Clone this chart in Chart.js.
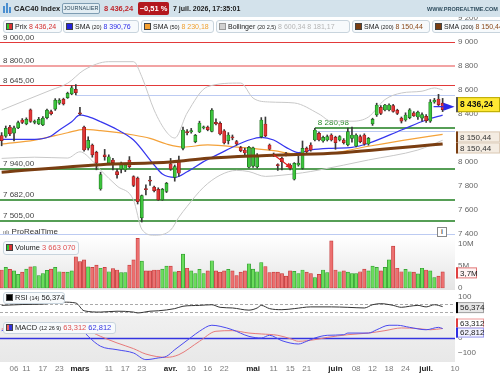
<!DOCTYPE html>
<html><head><meta charset="utf-8">
<script src="https://cdn.jsdelivr.net/npm/chart.js@4.4.1/dist/chart.umd.min.js"></script>
<style>
*{box-sizing:border-box}
html,body{margin:0;padding:0;background:#fff}
body{width:500px;height:375px;position:relative;overflow:hidden;font-family:"Liberation Sans",Arial,sans-serif;color:#222}
canvas{position:absolute;left:0}
.a{position:absolute;white-space:nowrap;line-height:1}
.box{position:absolute;height:13px;border:1px solid #c8d4dd;border-radius:3px;background:#f7fafc;font-size:7px;line-height:11px;padding-left:2px;white-space:nowrap;overflow:hidden;color:#222}
.sq{display:inline-block;width:7px;height:7px;border:1px solid #444;vertical-align:-1px;margin-right:2px}
.sm{font-size:5.5px}
</style></head><body>
<canvas id="cPrice" width="500" height="237" style="top:0"></canvas>
<canvas id="cVol" width="500" height="53" style="top:237px"></canvas>
<canvas id="cRsi" width="500" height="26" style="top:290px"></canvas>
<canvas id="cMacd" width="500" height="59" style="top:316px"></canvas>

<div class="a" style="left:0;top:0;width:500px;height:17px;background:#d3e2eb"></div>
<div class="a" style="left:3px;top:6px;width:2px;height:7px;background:#4b8fd0"></div>
<div class="a" style="left:6px;top:3px;width:2px;height:10px;background:#4b8fd0"></div>
<div class="a" style="left:9px;top:7px;width:2px;height:6px;background:#4b8fd0"></div>
<div class="a" style="left:14px;top:4.5px;font-size:7.5px;font-weight:bold;color:#1c1c1c">CAC40 Index</div>
<div class="a" style="left:62px;top:3px;width:38px;height:11px;border:1px solid #7e9db3;border-radius:2px;background:#e2edf3;font-size:5.5px;line-height:9px;text-align:center;color:#2d4a5e">JOURNALIER</div>
<div class="a" style="left:104px;top:4.5px;font-size:7.5px;font-weight:bold;color:#c0262c">8 436,24</div>
<div class="a" style="left:138px;top:2px;width:31px;height:13px;background:#b3171d;border-radius:2px;font-size:7.5px;font-weight:bold;color:#fff;line-height:13px;text-align:center">−0,51 %</div>
<div class="a" style="left:173px;top:4.5px;font-size:7px;font-weight:bold;color:#1c1c1c">7 juil. 2026, 17:35:01</div>
<div class="a" style="left:427px;top:7px;font-size:5.5px;font-weight:bold;color:#2f4d5e">WWW.PROREALTIME.COM</div>

<div class="box" style="left:3px;top:20px;width:59px"><span class="sq" style="background:linear-gradient(90deg,#3c3 50%,#d33 50%)"></span>Prix <span style="color:#d42f2f">8 436,24</span></div>
<div class="box" style="left:63px;top:20px;width:76px"><span class="sq" style="background:#2424dd"></span>SMA <span class="sm">(20)</span> <span style="color:#2f2fe8">8 390,76</span></div>
<div class="box" style="left:141px;top:20px;width:73px"><span class="sq" style="background:#f5a030"></span>SMA <span class="sm">(50)</span> <span style="color:#f0a030">8 230,18</span></div>
<div class="box" style="left:216px;top:20px;width:134px"><span class="sq" style="background:#d0d0d0;border-color:#999"></span>Bollinger <span class="sm">(20 2,5)</span> <span style="color:#b5b5b5">8 600,34 8 181,17</span></div>
<div class="box" style="left:352px;top:20px;width:78px"><span class="sq" style="background:#7a3e12"></span>SMA <span class="sm">(200)</span> <span style="color:#8b4a1a">8 150,44</span></div>
<div class="box" style="left:432px;top:20px;width:72px"><span class="sq" style="background:#7a3e12"></span>SMA <span class="sm">(200)</span> <span style="color:#8b4a1a">8 150,44</span></div>

<div class="a" style="left:3px;top:228px;font-size:8px;color:#333"><span style="font-size:6px;color:#555">ıılı</span> ProRealTime</div>
<div class="a" style="left:437px;top:227px;width:10px;height:10px;border:1px solid #888;font-size:7px;font-weight:bold;line-height:8px;text-align:center;color:#555;background:#fff">i</div>

<div class="box" style="left:3px;top:241px;width:76px;height:14px;line-height:12px;font-size:7.5px"><span class="sq" style="background:linear-gradient(90deg,#3c3 50%,#d33 50%)"></span>Volume <span style="color:#e05050">3 663 070</span></div>
<div class="box" style="left:3px;top:292px;width:62px;height:12px;line-height:10px;font-size:7.5px"><span class="sq" style="background:#000"></span>RSI <span class="sm">(14)</span> 56,374</div>
<div class="box" style="left:3px;top:322px;width:113px;height:12px;line-height:10px;font-size:7.5px"><span class="sq" style="background:linear-gradient(90deg,#e66 50%,#33d 50%)"></span>MACD <span class="sm">(12 26 9)</span> <span style="color:#e05050">63,312</span> <span style="color:#3535e0">62,812</span></div>

<script>
const FONT = '"Liberation Sans", Arial, sans-serif';

// ---- categories (trading days, 2026) ----
const dates = ['02-03','02-04','02-05','02-06','02-09','02-10','02-11','02-12','02-13','02-16','02-17','02-18','02-19','02-20','02-23','02-24','02-25','02-26','02-27',
'03-02','03-03','03-04','03-05','03-06','03-09','03-10','03-11','03-12','03-13','03-16','03-17','03-18','03-19','03-20','03-23','03-24','03-25','03-26','03-27','03-30','03-31',
'04-01','04-02','04-07','04-08','04-09','04-10','04-13','04-14','04-15','04-16','04-17','04-20','04-21','04-22','04-23','04-24','04-27','04-28','04-29','04-30',
'05-04','05-05','05-06','05-07','05-08','05-11','05-12','05-13','05-14','05-15','05-18','05-19','05-20','05-21','05-22','05-25','05-26','05-27','05-28','05-29',
'06-01','06-02','06-03','06-04','06-05','06-08','06-09','06-10','06-11','06-12','06-15','06-16','06-17','06-18','06-19','06-22','06-23','06-24','06-25','06-26','06-29','06-30',
'07-01','07-02','07-03','07-06','07-07'];
const futureDates = ['07-08','07-09','07-10'];
const axisDates = dates.concat(futureDates);

// ---- price OHLC ----
const open = [8220,8215,8290,8240,8285,8350,8318,8435,8330,8318, 8310,8370,8420,8440,8490,8522,8536,8567,8606,8410,
 8290,8115,8140,8080,7775,8060,7990,8017,7920,7940, 7935,8017,7878,7865,7535,7775,7845,7790,7772,7685,
 7755,7985,7872,8017,8114,8250,8250,8170,8250,8285, 8290,8255,8330,8322,8260,8178,8210,8170,8120,8100,
 7956,7965,7960,8211,8317,8142,8065,7975,8030,8070, 7975,7856,7975,7947,8114,8142,8183,8239,8175,8183,
 8225,8206,8183,8183,8142,8197,8133,8211,8225,8150, 8317,8392,8455,8433,8433,8470,8430,8365,8350,8370,
 8410,8375,8365,8380,8340,8500,8525,8490];
const high = [8245,8300,8305,8300,8340,8362,8368,8442,8350,8372, 8378,8440,8432,8528,8528,8532,8582,8635,8645,8455,
 8300,8210,8150,8090,7915,8105,8060,8030,7940,8000, 7990,8045,7885,7875,7725,7810,7880,7800,7785,7780,
 7830,8030,7975,8050,8290,8270,8280,8230,8340,8300, 8300,8445,8360,8335,8270,8245,8225,8180,8130,8115,
 8130,8125,8070,8370,8375,8150,8075,7985,8040,8080, 7985,7995,8050,8175,8125,8160,8281,8250,8215,8225,
 8235,8215,8220,8195,8283,8290,8235,8225,8235,8205, 8365,8490,8470,8480,8485,8480,8440,8375,8410,8445,
 8420,8425,8410,8395,8520,8530,8564,8530];
const low = [8135,8205,8220,8175,8278,8320,8310,8330,8318,8312, 8302,8360,8392,8430,8480,8475,8530,8560,8558,8390,
 8090,8100,8040,7935,7765,8015,7980,7935,7865,7910, 7920,7950,7795,7650,7500,7725,7805,7750,7680,7680,
 7745,7930,7840,7880,8100,8225,8240,8160,8245,8275, 8260,8250,8310,8225,8150,8150,8185,8140,8085,8060,
 7950,7955,7950,8200,8210,8100,8045,7930,7935,8050, 7935,7850,7965,7940,8075,8090,8175,8175,8165,8175,
 8175,8106,8175,8150,8135,8165,8125,8160,8140,8140, 8305,8380,8395,8425,8425,8415,8395,8325,8340,8360,
 8380,8355,8340,8330,8330,8490,8470,8420];
const close = [8178,8280,8235,8285,8328,8330,8356,8338,8340,8356, 8365,8432,8402,8516,8515,8484,8572,8619,8578,8402,
 8100,8180,8060,7990,7895,8045,8044,7995,7895,7990, 7975,7961,7805,7670,7720,7770,7840,7762,7685,7772,
 7822,7940,7961,7906,8267,8245,8262,8222,8325,8290, 8270,8433,8318,8233,8160,8225,8200,8150,8095,8075,
 8122,8118,8058,8350,8217,8106,8052,7970,8003,8062, 7947,7989,7990,8114,8086,8100,8267,8183,8205,8211,
 8183,8161,8211,8161,8253,8225,8225,8169,8150,8197, 8356,8475,8405,8475,8475,8422,8405,8340,8392,8435,
 8385,8415,8395,8345,8500,8515,8478,8436.24];

// ---- volume (millions) ----
const volumeM = [4.1,4.7,4.25,3.9,3.1,3.6,4.3,4.8,4.85,2.8, 3.3,4.0,4.3,4.7,3.7,3.6,3.6,3.9,7.1,6.0,
 6.4,4.8,4.7,5.2,4.5,4.7,3.7,4.4,4.1,3.5, 3.5,5.2,6.4,11.3,6.1,3.9,3.9,4.1,4.1,4.3,
 5.0,5.0,3.7,3.8,7.7,4.5,3.9,3.3,4.25,3.3, 3.9,6.2,3.9,3.6,3.9,4.25,3.9,2.8,3.6,3.9,
 5.5,4.3,3.7,5.8,4.85,3.5,3.6,3.6,3.3,2.7, 3.9,3.8,3.3,4.1,3.6,3.3,2.35,3.1,4.1,3.5,
 10.7,4.1,3.7,3.9,3.6,3.3,3.3,3.7,4.3,3.9, 5.0,4.7,3.9,4.7,6.4,9.5,4.5,3.7,4.25,3.7,
 3.6,3.2,4.5,4.1,3.9,2.35,2.7,3.66307];

// ---- indicators, read at sampled days: [day index, value] ----
const sma20Pts = [[0,8189],[8,8189],[12,8217],[14,8267],[17,8336],[19,8392],[21,8378],[24,8336],[28,8270],[32,8183],[37,7975],[39,7900],[42,7872],[45,7919],[49,8003],[53,8072],[57,8140],[60,8183],[63,8206],[66,8183],[69,8122],[72,8078],[75,8100],[80,8114],[85,8122],[89,8156],[97,8267],[103,8350],[107,8390.76]];
const sma50Pts = [[0,8150],[8,8183],[16,8244],[20,8272],[24,8261],[32,8225],[36,8197],[40,8150],[44,8125],[50,8142],[58,8122],[66,8094],[72,8064],[77,8064],[89,8131],[97,8178],[107,8230.18]];
const sma200Pts = [[0,7915],[24,7978],[41,8000],[50,8031],[63,8053],[80,8072],[107,8150.44]];
const bbUpperPts = [[0,8433],[6,8517],[12,8600],[16,8656],[20,8767],[26,8836],[32,8836],[34,8711],[37,8433],[40,8250],[42,8200],[45,8408],[50,8628],[58,8658],[61,8533],[65,8500],[71,8492],[77,8400],[80,8340],[85,8340],[89,8375],[93,8520],[97,8575],[102,8590],[105,8617],[107,8600.34]];
const bbLowerPts = [[0,8030],[8,8040],[16,8033],[19,8085],[22,8010],[24,7933],[28,7800],[32,7683],[34,7440],[37,7390],[41,7433],[43,7540],[45,7630],[49,7790],[53,7890],[57,7930],[60,7920],[64,7880],[68,7890],[73,7910],[77,7933],[89,8017],[101,8100],[107,8181.17]];
const rsiPts = [[0,62],[5,66],[10,68],[15,77],[18,73],[20,37],[24,31],[28,35],[32,31],[33,27],[36,35],[38,37],[42,47],[44,58],[48,62],[51,65],[53,53],[56,50],[60,40],[62,50],[63,62],[65,47],[68,42],[71,47],[75,55],[80,55],[84,53],[88,50],[90,65],[92,70],[95,62],[97,53],[99,58],[101,62],[103,55],[105,65],[106,62],[107,56.374]];
const macdPts = [[0,49],[3,71],[8,85],[13,92],[17,88],[19,70],[21,11],[24,-55],[28,-78],[32,-100],[35,-144],[38,-133],[40,-122],[42,-78],[46,5],[48,45],[51,85],[53,78],[56,55],[60,11],[63,0],[65,18],[68,-18],[72,-40],[74,-22],[76,0],[79,18],[83,22],[84,33],[89,33],[91,55],[94,85],[96,85],[99,71],[103,55],[106,71],[107,62.812]];
const signalPts = [[0,60],[5,75],[10,82],[15,85],[20,60],[24,11],[28,-33],[32,-71],[35,-107],[40,-129],[43,-111],[48,-22],[52,45],[56,49],[60,33],[63,27],[67,18],[70,-4],[72,-22],[76,-11],[79,4],[84,22],[89,33],[93,49],[97,67],[101,63],[104,55],[107,63.312]];

// ---- axis ticks ----
const tickDates = ['02-06','02-11','02-17','02-23','03-02','03-11','03-17','03-23','04-01','04-10','04-16','04-22','05-04','05-11','05-15','05-21','06-01','06-08','06-12','06-18','06-24','07-01','07-10'];
const tickText  = ['06','11','17','23','mars','11','17','23','avr.','10','16','22','mai','11','15','21','juin','08','12','18','24','juil.','10'];
const months = ['mars','avr.','mai','juin','juil.'];
const priceTicks = [7400,7600,7800,8000,8200,8400,8600,8800,9000,9200];
const volTicks = [0,5,10];
const rsiTicks = [100];
const macdTicks = [0,-100];

// ---- horizontal levels on price ----
const levelValues = [9000, 8800, 8645, 8558, 8280.98, 8258, 7940, 7682, 7505, 7400];
const levelFrom   = [0, 0, 0, 18, 76, 76, 0, 0, 0, 0];
const levelText   = ['9 000,00','8 800,00','8 645,00','','8 280,98','','7 940,00','7 682,00','7 505,00',''];
const levelStyle  = [
  {c:'#e23a3a',w:1,t:'#444'},{c:'#f2a3a3',w:2,t:'#444'},{c:'#e23a3a',w:1,t:'#444'},{c:'#bccbf2',w:1,t:'#444'},
  {c:'#1e7e1e',w:1.5,t:'#2a8a2a'},{c:'#bccbf2',w:1,t:'#444'},{c:'#1e7e1e',w:1.5,t:'#444'},{c:'#1e7e1e',w:1.5,t:'#444'},
  {c:'#1e7e1e',w:1.5,t:'#444'},{c:'#bccbf2',w:1,t:'#444'}];
const rsiLevels = [70, 30];
const arrowPts = [[66, 8060], [70.3, 7950]];

// ---- helpers ----
const P = pts => pts.map(p => ({x:p[0], y:p[1]}));
const last = a => a[a.length-1];
const fmtFr = (v, d) => { const neg = v < 0; const s = Math.abs(v).toFixed(d).split('.');
  return (neg?'−':'') + s[0].replace(/\B(?=(\d{3})+(?!\d))/g,' ') + (d ? ','+s[1] : ''); };
const isUp = close.map((c,i) => c >= open[i]);

function xScale(show){
  return {type:'linear', min:-0.4, max:axisDates.length-1, offset:false, display:show, position:'bottom',
    grid:{display:false, drawTicks:false}, border:{display:false},
    afterBuildTicks: s => { s.ticks = tickDates.map(d => ({value: axisDates.indexOf(d)})); },
    afterFit: s => { if (show) s.height = 13; s.paddingLeft = 0; s.paddingRight = 0; },
    ticks:{autoSkip:false, maxRotation:0, minRotation:0, padding:2,
      color: c => months.includes(tickText[c.index]) ? '#222' : '#7a7a7a',
      font: c => ({family:FONT, size:8, weight: months.includes(tickText[c.index]) ? 'bold' : 'normal'}),
      callback: (v,i) => tickText[i]}};
}
function yScale(min, max, ticks, fmt){
  return {type:'linear', position:'right', min, max,
    grid:{display:false, drawTicks:false}, border:{display:false},
    afterBuildTicks: s => { s.ticks = ticks.map(v => ({value:v})); },
    afterFit: s => { s.width = 45; s.paddingTop = 0; s.paddingBottom = 0; },
    ticks:{autoSkip:false, padding:3, color:'#666', font:{family:FONT, size:8}, callback: v => fmt(v)}};
}
const baseOpts = (scales) => ({responsive:false, animation:false, events:[],
  layout:{padding:0, autoPadding:false},
  plugins:{legend:{display:false}, tooltip:{enabled:false}}, scales});

function drawTag(chart, t){
  const ctx = chart.ctx, ys = chart.scales.y, a = chart.chartArea;
  const yc = ys.getPixelForValue(t.v) + (t.dy||0), h = t.h, x0 = a.right + 1;
  ctx.save();
  ctx.fillStyle = t.bg; ctx.fillRect(x0, yc-h/2, t.w, h);
  if (t.border){ ctx.strokeStyle = t.border; ctx.lineWidth = 1; ctx.strokeRect(x0+0.5, yc-h/2+0.5, t.w-1, h-1); }
  ctx.fillStyle = t.lb; ctx.fillRect(x0, yc-h/2, 2, h);
  ctx.fillStyle = t.color||'#222'; ctx.font = (t.bold?'bold ':'') + (t.fs||8) + 'px ' + FONT;
  ctx.textBaseline = 'middle'; ctx.textAlign = 'left';
  ctx.fillText(t.text, x0+4, yc+0.5);
  ctx.restore();
}
const tagsPlugin = tags => ({id:'tags', afterDraw(chart){ tags.forEach(t => drawTag(chart, t)); }});
const bgPlugin = (c1, c2) => ({id:'bg', beforeDraw(chart){
  const {ctx, chartArea:a} = chart; const g = ctx.createLinearGradient(0,a.top,0,a.bottom);
  g.addColorStop(0,c1); g.addColorStop(1,c2); ctx.save(); ctx.fillStyle = g;
  ctx.fillRect(a.left, a.top, a.right-a.left, a.bottom-a.top); ctx.restore(); }});
const hLinesPlugin = (vals, color, width, dash) => ({id:'hl', beforeDatasetsDraw(chart){
  const {ctx, chartArea:a, scales:{y}} = chart; ctx.save(); ctx.strokeStyle = color; ctx.lineWidth = width; ctx.setLineDash(dash||[]);
  vals.forEach(v => { const py = Math.round(y.getPixelForValue(v)) + 0.5; ctx.beginPath(); ctx.moveTo(a.left, py); ctx.lineTo(a.right, py); ctx.stroke(); });
  ctx.restore(); }});

// ---- price chart ----
const levelsPlugin = {id:'levels', beforeDatasetsDraw(chart){
  const {ctx, chartArea:a, scales:{x, y}} = chart;
  ctx.save();
  levelValues.forEach((v,k) => {
    const st = levelStyle[k];
    const py = Math.round(y.getPixelForValue(v)) + (st.w === 1 ? 0.5 : 0);
    const px0 = Math.max(a.left, x.getPixelForValue(levelFrom[k]));
    ctx.strokeStyle = st.c; ctx.lineWidth = st.w;
    ctx.beginPath(); ctx.moveTo(levelFrom[k] === 0 ? a.left : px0, py); ctx.lineTo(a.right, py); ctx.stroke();
    if (levelText[k]){ ctx.fillStyle = st.t; ctx.font = '8px ' + FONT; ctx.textBaseline = 'alphabetic';
      ctx.fillText(levelText[k], (levelFrom[k] === 0 ? a.left : px0) + 3, py - 3); }
  });
  ctx.restore();
}, afterDatasetsDraw(chart){
  const {ctx, scales:{x, y}} = chart;
  ctx.save();
  const x1 = x.getPixelForValue(arrowPts[0][0]), y1 = y.getPixelForValue(arrowPts[0][1]);
  const x2 = x.getPixelForValue(arrowPts[1][0]), y2 = y.getPixelForValue(arrowPts[1][1]);
  const ang = Math.atan2(y2-y1, x2-x1);
  ctx.strokeStyle = '#e01f1f'; ctx.fillStyle = '#e01f1f'; ctx.lineWidth = 1.2;
  ctx.beginPath(); ctx.moveTo(x1,y1); ctx.lineTo(x2,y2); ctx.stroke();
  ctx.beginPath(); ctx.moveTo(x2,y2);
  ctx.lineTo(x2 - 6*Math.cos(ang-0.45), y2 - 6*Math.sin(ang-0.45));
  ctx.lineTo(x2 - 6*Math.cos(ang+0.45), y2 - 6*Math.sin(ang+0.45)); ctx.closePath(); ctx.fill();
  const n = close.length - 1;
  const ym = y.getPixelForValue(last(close)) - 3;
  const xa = x.getPixelForValue(n - 2.2), xb = x.getPixelForValue(n + 0.2), xc = x.getPixelForValue(n + 2.9);
  ctx.strokeStyle = '#2a2ae8'; ctx.fillStyle = '#2a2ae8'; ctx.lineWidth = 1.2;
  ctx.beginPath(); ctx.moveTo(xa, ym); ctx.lineTo(xb, ym); ctx.stroke();
  ctx.beginPath(); ctx.moveTo(xb, ym-4); ctx.lineTo(xc, ym); ctx.lineTo(xb, ym+4); ctx.closePath(); ctx.fill();
  ctx.restore();
}};

const wickData = dates.map((d,i) => ({x:i, y:[low[i], high[i]]}));
const bodyData = dates.map((d,i) => ({x:i, y:[open[i], close[i]]}));
const lineDs = (pts, color, w, order) => ({type:'line', data:P(pts), borderColor:color, borderWidth:w,
  pointRadius:0, cubicInterpolationMode:'monotone', fill:false, order});

new Chart(document.getElementById('cPrice'), {
  type:'bar',
  data:{datasets:[
    lineDs(bbUpperPts, '#c8c8c8', 1, 9),
    lineDs(bbLowerPts, '#c8c8c8', 1, 9),
    lineDs(sma50Pts, '#f4a23a', 1.2, 7),
    lineDs(sma20Pts, '#3535ee', 1.2, 6),
    {type:'bar', data:wickData, barThickness:1, grouped:false, backgroundColor:'#3a3a3a', order:3},
    {type:'bar', data:bodyData, barThickness:3.2, grouped:false, minBarLength:1, borderSkipped:false,
      backgroundColor: c => isUp[c.dataIndex] ? '#3cc43c' : '#e23636',
      borderColor: c => isUp[c.dataIndex] ? '#1d6b1d' : '#8e1a1a', borderWidth:0.7, order:2},
    lineDs(sma200Pts, '#7a3e12', 3, 1)
  ]},
  options: baseOpts({x:xScale(false), y:yScale(7375, 9350, priceTicks, v => fmtFr(v,0))}),
  plugins:[levelsPlugin, tagsPlugin([
    {v:last(close), dy:-5, h:15, w:44, bg:'#ffe833', border:'#b8a800', lb:'#555', text:fmtFr(last(close),2), bold:true, fs:8.5, color:'#111'},
    {v:last(sma200Pts)[1], dy:-7, h:11, w:44, bg:'#f4ece2', border:'#dccbb8', lb:'#7a3e12', text:fmtFr(last(sma200Pts)[1],2), color:'#333'},
    {v:last(sma200Pts)[1], dy:4, h:11, w:44, bg:'#f4ece2', border:'#dccbb8', lb:'#7a3e12', text:fmtFr(last(sma200Pts)[1],2), color:'#333'}
  ])]
});

// ---- volume chart ----
new Chart(document.getElementById('cVol'), {
  type:'bar',
  data:{datasets:[{data: volumeM.map((v,i) => ({x:i, y:v})), barThickness:3.4, grouped:false,
    backgroundColor: c => isUp[c.dataIndex] ? '#6bdc5c' : '#ec7070',
    borderColor: c => isUp[c.dataIndex] ? '#2c9a2c' : '#c03535', borderWidth:0.7, borderSkipped:false}]},
  options: baseOpts({x:xScale(false), y:yScale(-0.45, 11.59, volTicks, v => v === 0 ? '0' : v + 'M')}),
  plugins:[bgPlugin('#ffffff', '#e4e4e4'), tagsPlugin([
    {v:last(volumeM), dy:1, h:11, w:21, bg:'#fff4f4', border:'#e07878', lb:'#e04040', text:fmtFr(last(volumeM),1)+'M'}
  ])]
});

// ---- RSI chart ----
new Chart(document.getElementById('cRsi'), {
  type:'line',
  data:{datasets:[lineDs(rsiPts, '#333333', 1, 1)]},
  options: baseOpts({x:xScale(false), y:yScale(12.75, 133.4, rsiTicks, v => String(v))}),
  plugins:[hLinesPlugin(rsiLevels, '#aaaaaa', 1, [3,2]), tagsPlugin([
    {v:last(rsiPts)[1], dy:1, h:11, w:28, bg:'#e6e6e6', border:'#a0a0a0', lb:'#000', text:fmtFr(last(rsiPts)[1],3)}
  ])]
});

// ---- MACD chart ----
new Chart(document.getElementById('cMacd'), {
  type:'line',
  data:{datasets:[lineDs(signalPts, '#e77a7a', 1, 2), lineDs(macdPts, '#4a4af0', 1, 1)]},
  options: baseOpts({x:xScale(true), y:yScale(-160, 146.7, macdTicks, v => fmtFr(v,0))}),
  plugins:[bgPlugin('#f0f0f0', '#e8e8e8'), hLinesPlugin([0], '#3434e0', 1.5), tagsPlugin([
    {v:last(signalPts)[1], dy:-5, h:10, w:28, bg:'#ffffff', border:'#ee9999', lb:'#e04040', text:fmtFr(last(signalPts)[1],3)},
    {v:last(macdPts)[1], dy:4, h:10, w:28, bg:'#f2f2ff', border:'#9999ee', lb:'#3030e0', text:fmtFr(last(macdPts)[1],3)}
  ])]
});
</script>
</body></html>
